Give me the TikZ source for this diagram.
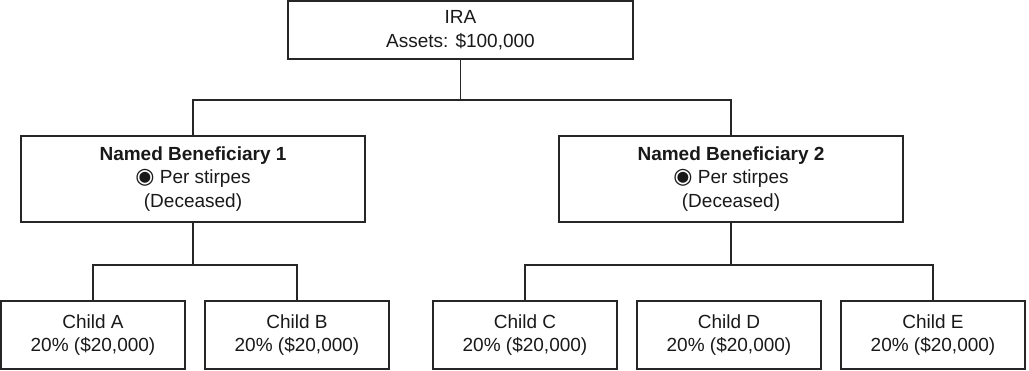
\documentclass[tikz,border=0pt]{standalone}
\usepackage{fontspec}
\setmainfont{Liberation Sans}
\newfontfamily\symfont{DejaVu Sans}
\usetikzlibrary{positioning}
\tikzset{
  box/.style ={draw=black!85, line width=1.8pt, outer sep=0pt, align=center,
               text=black!90, font=\fontsize{19}{23.5}\selectfont},
  top/.style ={box, minimum width=345pt, minimum height=58pt},
  ben/.style ={box, minimum width=344pt, minimum height=86pt},
  kid/.style ={box, minimum width=184pt, minimum height=68pt},
  ln/.style  ={draw=black!85, line width=1.8pt},
}
\newcommand{\radio}{{\symfont\fontsize{22}{23.5}\selectfont\char"25C9}}

\begin{document}
\begin{tikzpicture}[x=1pt, y=-1pt, node distance=20pt]
  \useasboundingbox (0,0) rectangle (1029,371);

  \node[top] (ira) at (460.5,30) {IRA\\Assets: \$100,000};

  \node[ben] (nb1) at (193,179)
        {\textbf{Named Beneficiary 1}\\\radio\ Per stirpes\\(Deceased)};
  \node[ben] (nb2) at (731,179)
        {\textbf{Named Beneficiary 2}\\\radio\ Per stirpes\\(Deceased)};

  % children of beneficiary 1
  \node[kid] (cA) at (93,335) {Child A\\20\% (\$20,000)};
  \node[kid, right=of cA] (cB) {Child B\\20\% (\$20,000)};
  % children of beneficiary 2
  \node[kid] (cC) at (525,335) {Child C\\20\% (\$20,000)};
  \node[kid, right=of cC] (cD) {Child D\\20\% (\$20,000)};
  \node[kid, right=of cD] (cE) {Child E\\20\% (\$20,000)};

  % connectors
  \draw[ln] (ira.south) -- ++(0,41) coordinate (irabus);
  \draw[ln] (nb1.north) |- (irabus) -| (nb2.north);
  \draw[ln] (nb1.south) -- ++(0,43) coordinate (bus1);
  \draw[ln] (cA.north) |- (bus1) -| (cB.north);
  \draw[ln] (nb2.south) -- ++(0,43) coordinate (bus2);
  \draw[ln] (cC.north) |- (bus2) -| (cE.north);
\end{tikzpicture}
\end{document}
